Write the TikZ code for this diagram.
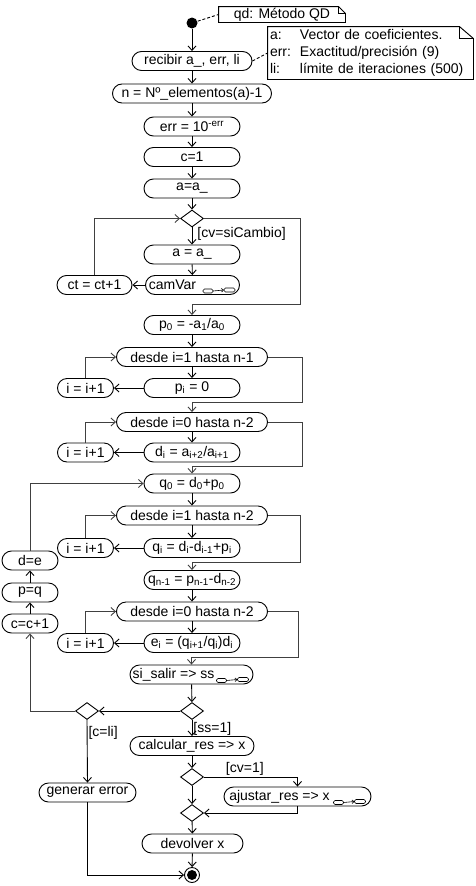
\documentclass[tikz,border=0pt]{standalone}
\usepackage{fontspec}
\setmainfont{Liberation Sans}
\usetikzlibrary{arrows.meta, shapes.geometric}

\begin{document}
\begin{tikzpicture}[
    x=1pt, y=-1pt,
    line width=0.9pt,
    >={Straight Barb[length=4.5pt,width=8pt]},
    % activity boxes
    act/.style={
        draw,
        rounded corners=9.5pt,
        minimum height=19pt,
        inner sep=1pt,
        font=\fontsize{14}{16}\selectfont
    },
    wide/.style={act, minimum width=96pt},
    loopbox/.style={act, minimum width=151pt},
    inc/.style={act, minimum width=56pt},
    % decisions and labels
    branch/.style={diamond, draw, minimum width=23pt, minimum height=17pt, inner sep=0pt},
    guard/.style={font=\fontsize{14}{16}\selectfont, anchor=west, inner sep=1pt},
    notetext/.style={font=\fontsize{14}{17}\selectfont, inner sep=0pt},
    link/.style={dash pattern=on 3pt off 2pt},
    back/.style={->, draw=black!75},
    % sub-activity mark
    rake/.pic={
        \draw[line width=0.6pt, rounded corners=1.5pt] (0,1) rectangle (10,5);
        \draw[line width=0.6pt, rounded corners=1.5pt] (21,0) rectangle (32,4);
        \draw[line width=0.6pt, -{Straight Barb[length=2pt,width=3.5pt]}] (10,3) -- (21,2);
    }
]
    \useasboundingbox (0,0) rectangle (476,886);

    % ==========================================
    % 1. START AND NOTES
    % ==========================================
    \node[circle, fill, inner sep=0pt, minimum size=11pt] (start) at (192,23) {};

    \node[notetext, minimum width=126pt, minimum height=15pt] (nqd) at (282,14.5) {qd: Método QD};
    \draw (nqd.south west) -- (nqd.north west) -- ([xshift=-7pt]nqd.north east)
        -- ([yshift=-7pt]nqd.north east) -- (nqd.south east) -- cycle;
    \draw ([xshift=-7pt]nqd.north east) |- ([yshift=-7pt]nqd.north east);

    \node[notetext, text width=201pt, inner xsep=2pt, minimum height=52pt, align=left] (params) at (370.5,53)
        {\makebox[30pt][l]{a:}Vector de coeficientes.\\
         \makebox[30pt][l]{err:}Exactitud/precisión (9)\\
         \makebox[30pt][l]{li:}límite de iteraciones (500)};
    \draw (params.south west) -- (params.north west) -- ([xshift=-14pt]params.north east)
        -- ([yshift=-12pt]params.north east) -- (params.south east) -- cycle;
    \draw ([xshift=-14pt]params.north east) |- ([yshift=-12pt]params.north east);

    % ==========================================
    % 2. MAIN COLUMN
    % ==========================================
    \node[act, minimum width=120pt] (recibir) at (192,61) {recibir a\_, err, li};
    \node[act, minimum width=159pt] (nelem) at (192,93.5) {n = Nº\_elementos(a)-1};
    \node[wide] (err) at (192,126.5) {err = 10\textsuperscript{-err}};
    \node[wide] (cuno) at (192,157) {c=1};
    \node[wide] (acopia) at (192,188.5) {a=a\_};
    \node[branch] (cambio) at (192,218.5) {};
    \node[wide] (acopiab) at (192,254.5) {a = a\_};
    \node[act, minimum width=94pt] (camvar) at (192.5,285) {camVar\hspace{40pt}\mbox{}};
    \pic at ([xshift=-37pt,yshift=-3pt]camvar.east) {rake};
    \node[act, minimum width=75pt] (ct) at (94.5,285) {ct = ct+1};

    \node[wide] (pcero) at (192,325) {p\textsubscript{0} = -a\textsubscript{1}/a\textsubscript{0}};
    \node[loopbox] (desdeA) at (192,357) {desde i=1 hasta n-1};
    \node[wide] (pi) at (192,388) {p\textsubscript{i} = 0};
    \node[inc] (incA) at (85.5,388) {i = i+1};

    \node[loopbox] (desdeB) at (192,422) {desde i=0 hasta n-2};
    \node[wide] (di) at (192,452.5) {d\textsubscript{i} = a\textsubscript{i+2}/a\textsubscript{i+1}};
    \node[inc] (incB) at (85.5,452.5) {i = i+1};

    \node[wide] (qcero) at (192,483.5) {q\textsubscript{0} = d\textsubscript{0}+p\textsubscript{0}};
    \node[loopbox] (desdeC) at (192,515.5) {desde i=1 hasta n-2};
    \node[wide] (qi) at (192,548) {q\textsubscript{i} = d\textsubscript{i}-d\textsubscript{i-1}+p\textsubscript{i}};
    \node[inc] (incC) at (85.5,548) {i = i+1};
    \node[wide] (qn) at (192,580) {q\textsubscript{n-1} = p\textsubscript{n-1}-d\textsubscript{n-2}};

    \node[loopbox] (desdeD) at (192,611.5) {desde i=0 hasta n-2};
    \node[wide] (ei) at (192,643) {e\textsubscript{i} = (q\textsubscript{i+1}/q\textsubscript{i})d\textsubscript{i}};
    \node[inc] (incD) at (85.5,643) {i = i+1};

    \node[act, minimum width=123pt] (salir) at (191.5,674.5) {si\_salir => ss\hspace{36pt}\mbox{}};
    \pic at ([xshift=-37pt,yshift=-3pt]salir.east) {rake};

    % left column: next iteration
    \node[inc] (de) at (30,560.5) {d=e};
    \node[inc] (pq) at (30,592.5) {p=q};
    \node[inc] (cc) at (30,623.5) {c=c+1};

    % ==========================================
    % 3. EXIT PART
    % ==========================================
    \node[branch] (sisale) at (192,711) {};
    \node[branch] (limite) at (87,711) {};
    \node[act, minimum width=124pt] (calc) at (192,746) {calcular\_res => x};
    \node[branch] (hayvar) at (192,777) {};
    \node[act, minimum width=147pt] (ajustar) at (297.5,796.5) {ajustar\_res => x\hspace{36pt}\mbox{}};
    \pic at ([xshift=-38pt,yshift=-3pt]ajustar.east) {rake};
    \node[branch] (junta) at (192,813) {};
    \node[act, minimum width=101pt] (devolver) at (192.5,843.5) {devolver x};
    \node[act, minimum width=97pt] (generar) at (87.5,792.5) {generar error};
    \node[circle, draw, minimum size=15pt, inner sep=0pt] (fin) at (192,875) {};
    \fill (fin.center) circle (5pt);

    % ==========================================
    % 4. CONNECTIONS
    % ==========================================
    \draw[link] (start) -- (nqd.west);
    \draw[link] (recibir.east) -- (params.west);

    \draw[->] (start) -- (recibir);
    \draw[->] (recibir) -- (nelem);
    \draw[->] (nelem) -- (err);
    \draw[->] (err) -- (cuno);
    \draw[->] (cuno) -- (acopia);
    \draw[->] (acopia) -- (cambio);
    \draw[->] (cambio) -- (acopiab) node[guard, pos=0.4, xshift=4pt] {[cv=siCambio]};
    \draw[->] (acopiab) -- (camvar);
    \draw[->] (camvar.west) -- (ct.east);
    \draw[back] (ct.north) |- (cambio.west);
    \coordinate (rA) at (300,304);
    \draw[back] (cambio.east) -| (rA) -| (pcero.north);

    \draw[->] (pcero) -- (desdeA);
    \draw[->] (desdeA) -- (pi);
    \draw[->] (pi.west) -- (incA.east);
    \draw[back] (incA.north) |- (desdeA.west);
    \coordinate (rB) at (302,402);
    \draw[back] (desdeA.east) -| (rB) -| (desdeB.north);

    \draw[->] (desdeB) -- (di);
    \draw[->] (di.west) -- (incB.east);
    \draw[back] (incB.north) |- (desdeB.west);
    \coordinate (rC) at (302,466);
    \draw[back] (desdeB.east) -| (rC) -| (qcero.north);

    \draw[->] (qcero) -- (desdeC);
    \draw[->] (desdeC) -- (qi);
    \draw[->] (qi.west) -- (incC.east);
    \draw[back] (incC.north) |- (desdeC.west);
    \coordinate (rD) at (300,562);
    \draw[back] (desdeC.east) -| (rD) -| (qn.north);

    \draw[->] (qn) -- (desdeD);
    \draw[->] (desdeD) -- (ei);
    \draw[->] (ei.west) -- (incD.east);
    \draw[back] (incD.north) |- (desdeD.west);
    \coordinate (rE) at (298,657);
    \draw[back] (desdeD.east) -| (rE) -| (salir.north);

    \draw[->] (salir) -- (sisale);
    \draw[->] (sisale.west) -- (limite.east);
    \draw[back] (limite.west) -| (cc.south);
    \draw[->] (cc) -- (pq);
    \draw[->] (pq) -- (de);
    \draw[back] (de.north) |- (qcero.west);

    \draw[->] (limite.south) -- (generar.north) node[guard, pos=0.2] {[c=li]};
    \draw[->] (generar.south) |- (fin.west);

    \draw[->] (sisale.south) -- (calc.north) node[guard, pos=0.55] {[ss=1]};
    \draw[->] (calc) -- (hayvar);
    \draw[->] (hayvar.east) -| (ajustar.north) node[pos=0.11, anchor=south west, inner sep=1pt, font=\fontsize{14}{16}\selectfont] {[cv=1]};
    \draw[->] (ajustar.south) |- (junta.east);
    \draw[->] (hayvar.south) -- (junta.north);
    \draw[->] (junta) -- (devolver);
    \draw[->] (devolver) -- (fin);

\end{tikzpicture}
\end{document}
